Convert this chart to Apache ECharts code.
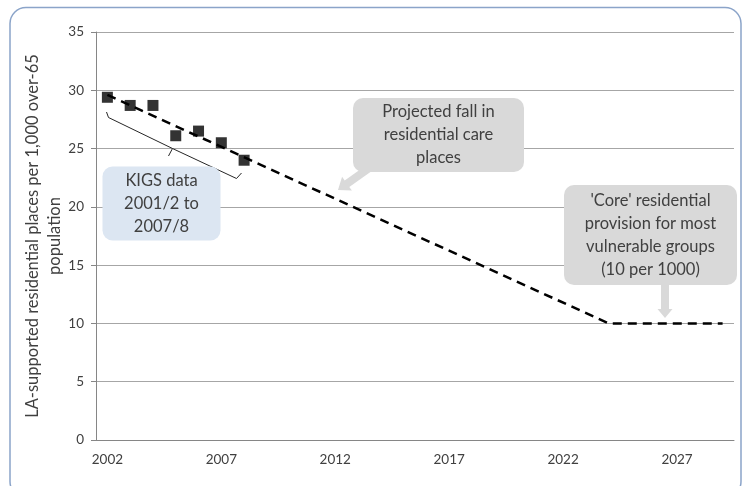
<!DOCTYPE html>
<html>
<head>
<meta charset="utf-8">
<script src="https://cdn.jsdelivr.net/npm/echarts@6/dist/echarts.min.js"></script>
<style>
  html, body { margin: 0; padding: 0; background: #ffffff; }
  #chart { width: 744px; height: 486px; }
</style>
</head>
<body>
<div id="chart"></div>
<script>
// Years shown on the category axis (one band per year)
const years = ['2002','2003','2004','2005','2006','2007','2008','2009','2010','2011',
               '2012','2013','2014','2015','2016','2017','2018','2019','2020','2021',
               '2022','2023','2024','2025','2026','2027','2028','2029'];

// KIGS data, 2001/2 to 2007/8
const kigsYears = ['2002','2003','2004','2005','2006','2007','2008'];
const kigsValues = [29.4, 28.7, 28.7, 26.1, 26.5, 25.5, 24.0];

// Projected fall: key points of the dashed projection
const projYears = ['2002', '2024', '2029'];
const projValues = [29.6, 10, 10];

const yTicks = [0, 5, 10, 15, 20, 25, 30, 35];

const FONT = 'Lato, "Open Sans", sans-serif';
const TXT = '#404040';
const NOTE_SIZE = 16.5;

const chart = echarts.init(document.getElementById('chart'), null, { renderer: 'canvas' });

// Block arrow polygon from (x1,y1) to tip (x2,y2)
function blockArrow(x1, y1, x2, y2, shaft, head, headLen) {
  const dx = x2 - x1, dy = y2 - y1;
  const len = Math.hypot(dx, dy);
  const ux = dx / len, uy = dy / len;
  const nx = -uy, ny = ux;
  const bx = x2 - ux * headLen, by = y2 - uy * headLen;
  const s = shaft / 2, h = head / 2;
  return [
    [x1 + nx * s, y1 + ny * s],
    [bx + nx * s, by + ny * s],
    [bx + nx * h, by + ny * h],
    [x2, y2],
    [bx - nx * h, by - ny * h],
    [bx - nx * s, by - ny * s],
    [x1 - nx * s, y1 - ny * s]
  ];
}

function callout(x, y, w, h, fill, lines, lineH, fontSize) {
  const els = [{
    type: 'rect',
    shape: { x: x, y: y, width: w, height: h, r: 10 },
    style: { fill: fill, stroke: null },
    z: 10
  }];
  const top = y + h / 2 - (lines.length * lineH) / 2 + lineH / 2;
  lines.forEach(function (t, i) {
    els.push({
      type: 'text',
      x: x + w / 2,
      y: top + i * lineH,
      style: {
        text: t, fill: TXT, font: fontSize + 'px ' + FONT,
        align: 'center', verticalAlign: 'middle'
      },
      z: 11
    });
  });
  return els;
}

const option = {
  animation: false,
  backgroundColor: '#ffffff',
  grid: { left: 96, right: 10, top: 32, bottom: 46 },
  xAxis: {
    type: 'category',
    data: years,
    boundaryGap: true,
    axisLine: { lineStyle: { color: '#868686', width: 1 } },
    axisTick: { interval: 4, length: 5, lineStyle: { color: '#868686' } },
    axisLabel: { interval: 4, color: TXT, fontFamily: FONT, fontSize: 13.5, margin: 13 },
    splitLine: { show: false }
  },
  yAxis: {
    type: 'value',
    min: 0, max: 35, interval: 5,
    name: 'LA-supported residential places per 1,000 over-65\npopulation',
    nameLocation: 'middle',
    nameRotate: 90,
    nameGap: 30,
    nameMoveOverlap: false,
    nameTextStyle: { color: TXT, fontFamily: FONT, fontSize: NOTE_SIZE, lineHeight: 22 },
    axisLine: { show: true, lineStyle: { color: '#868686' } },
    axisTick: { show: true, length: 5, lineStyle: { color: '#868686' } },
    axisLabel: {
      color: TXT, fontFamily: FONT, fontSize: 13.5, margin: 12,
      formatter: function (v) { return yTicks.indexOf(v) >= 0 ? String(v) : ''; }
    },
    splitLine: { lineStyle: { color: '#a6a6a6', width: 1 } }
  },
  series: [
    {
      name: 'Projected fall',
      type: 'line',
      data: projYears.map(function (y, i) { return [y, projValues[i]]; }),
      symbol: 'none',
      lineStyle: { color: '#000000', width: 2.5, type: [9, 6] },
      z: 3
    },
    {
      name: 'KIGS data',
      type: 'scatter',
      data: kigsYears.map(function (y, i) { return [y, kigsValues[i]]; }),
      symbol: 'rect',
      symbolSize: 11,
      itemStyle: { color: '#000000' },
      z: 4
    }
  ]
};

chart.setOption(option);

// Annotations: frame, brace, callouts
const g = [];
g.push({
  type: 'rect',
  shape: { x: 10, y: 7.5, width: 731, height: 490, r: 16 },
  style: { fill: null, stroke: '#8ba4c9', lineWidth: 1.5 },
  z: 1, silent: true
});
// brace under the KIGS points
g.push({
  type: 'polyline',
  shape: { points: [[106.5, 112], [108.5, 117.5], [172.5, 148.5], [168.5, 156]] },
  style: { stroke: '#262626', lineWidth: 1, fill: null }, z: 5
});
g.push({
  type: 'polyline',
  shape: { points: [[172.5, 148.5], [236.5, 178.5], [241.5, 173]] },
  style: { stroke: '#262626', lineWidth: 1, fill: null }, z: 5
});
// KIGS label box
callout(102.5, 166.5, 118, 74, '#dce6f2', ['KIGS data', '2001/2 to', '2007/8'], 23, NOTE_SIZE)
  .forEach(function (e) { g.push(e); });
// Projected fall callout
g.push({
  type: 'polygon',
  shape: { points: blockArrow(372, 166, 338, 190, 8, 17, 11) },
  style: { fill: '#d9d9d9' }, z: 10
});
callout(353, 98, 171, 74, '#d9d9d9', ['Projected fall in', 'residential care', 'places'], 23, NOTE_SIZE)
  .forEach(function (e) { g.push(e); });
// Core provision callout
g.push({
  type: 'polygon',
  shape: { points: blockArrow(665, 280, 665, 318, 8, 15, 9) },
  style: { fill: '#d9d9d9' }, z: 10
});
callout(564, 185, 173, 100, '#d9d9d9',
  ["'Core' residential", 'provision for most', 'vulnerable groups', '(10 per 1000)'], 23, NOTE_SIZE)
  .forEach(function (e) { g.push(e); });

chart.setOption({ graphic: { elements: g } });
</script>
</body>
</html>
